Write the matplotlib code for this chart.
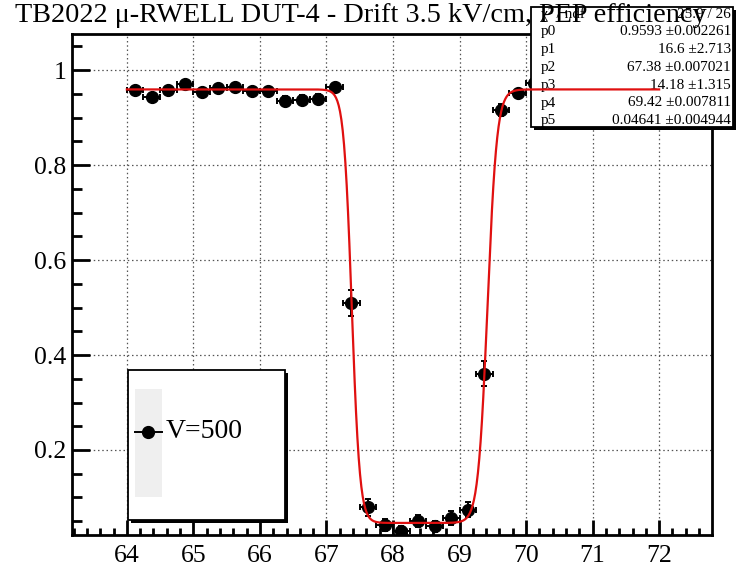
import numpy as np
import matplotlib
matplotlib.use("Agg")
import matplotlib.pyplot as plt
from matplotlib.patches import Rectangle
from matplotlib.lines import Line2D
from matplotlib.ticker import MultipleLocator

plt.rcParams["font.family"] = ["Liberation Serif", "DejaVu Serif"]

# bin centres (position in mm) and measured efficiency
pos = [64.125, 64.375, 64.625, 64.875, 65.125, 65.375, 65.625, 65.875,
       66.125, 66.375, 66.625, 66.875, 67.125, 67.375, 67.625, 67.875,
       68.125, 68.375, 68.625, 68.875, 69.125, 69.375, 69.625, 69.875,
       70.125, 70.375, 70.625, 70.875, 71.125, 71.375, 71.625, 71.875]
eff = [0.958, 0.943, 0.958, 0.970, 0.953, 0.962, 0.965, 0.956,
       0.956, 0.935, 0.937, 0.940, 0.964, 0.509, 0.079, 0.042,
       0.030, 0.051, 0.039, 0.057, 0.074, 0.361, 0.916, 0.951,
       0.973, 0.962, 0.958, 0.965, 0.955, 0.961, 0.957, 0.963]
eff_err = [0.009, 0.009, 0.009, 0.008, 0.009, 0.009, 0.008, 0.009,
           0.009, 0.010, 0.010, 0.010, 0.008, 0.027, 0.018, 0.012,
           0.010, 0.013, 0.012, 0.014, 0.016, 0.027, 0.012, 0.009,
           0.008, 0.009, 0.009, 0.009, 0.009, 0.009, 0.009, 0.009]
pos_err = 0.125

# fit results
par_names = ["p0", "p1", "p2", "p3", "p4", "p5"]
par_vals = [0.9593, 16.6, 67.38, 14.18, 69.42, 0.04641]
par_text = ["0.9593 \u00b10.002261", "16.6 \u00b12.713", "67.38 \u00b10.007021",
            "14.18 \u00b11.315", "69.42 \u00b10.007811", "0.04641 \u00b10.004944"]
chi2_text = "25.9 / 26"
fit_range = (64.0, 72.0)


def fit_func(x, p):
    fall = 1.0 / (1.0 + np.exp(p[1] * (x - p[2])))
    rise = 1.0 / (1.0 + np.exp(-p[3] * (x - p[4])))
    return p[5] + (p[0] - p[5]) * (fall + rise)


W, H = 736, 568
fig = plt.figure(figsize=(W / 100, H / 100), dpi=100)


def fx(px):
    return px / W


def fy(py):
    return 1 - py / H


ax = fig.add_axes([fx(72.3), fy(535), fx(711.7) - fx(72.3), (535 - 34) / H])
ax.set_xlim(63.18, 72.79)
ax.set_ylim(0.021, 1.076)

ax.xaxis.set_major_locator(MultipleLocator(1))
ax.xaxis.set_minor_locator(MultipleLocator(0.2))
ax.yaxis.set_major_locator(MultipleLocator(0.2))
ax.yaxis.set_minor_locator(MultipleLocator(0.05))
ax.set_yticks([0.2, 0.4, 0.6, 0.8, 1.0])
ax.set_yticklabels(["0.2", "0.4", "0.6", "0.8", "1"])
ax.tick_params(which="both", direction="in", top=False, right=False, width=2, labelsize=18.5)
ax.tick_params(axis="y", which="major", length=13, pad=4)
ax.tick_params(axis="y", which="minor", length=7)
ax.tick_params(axis="x", which="major", length=11, pad=7)
ax.tick_params(axis="x", which="minor", length=5)
for s in ax.spines.values():
    s.set_linewidth(2)
ax.set_axisbelow(True)
ax.grid(True, which="major", color="#555555", linestyle=(0, (1.2, 2.2)), linewidth=0.9)

ax.errorbar(pos, eff, yerr=eff_err, xerr=pos_err, fmt="o", color="black",
            markersize=8.5, elinewidth=1.4, capsize=2.5, capthick=1.4, zorder=3)

xf = np.linspace(fit_range[0], fit_range[1], 800)
ax.plot(xf, fit_func(xf, par_vals), color="#e01010", lw=1.6, zorder=6)

# stats box
tf = fig.transFigure
ax.add_patch(Rectangle((fx(534), fy(130)), fx(736) - fx(534), (130 - 10) / H,
                       facecolor="black", edgecolor="none", transform=tf,
                       clip_on=False, zorder=4))
ax.add_patch(Rectangle((fx(531), fy(127)), fx(733) - fx(531), (127 - 7) / H,
                       facecolor="white", edgecolor="black", lw=1.3, transform=tf,
                       clip_on=False, zorder=4.2))
rows = [("\u03c7\u00b2 / ndf", chi2_text)] + list(zip(par_names, par_text))
for i, (name, val) in enumerate(rows):
    yy = fy(14 + i * 17.8)
    ax.text(fx(541), yy, name, transform=tf, fontsize=11, va="center", ha="left", zorder=4.5)
    ax.text(fx(731), yy, val, transform=tf, fontsize=11, va="center", ha="right", zorder=4.5)

# legend box
ax.add_patch(Rectangle((fx(131), fy(523)), fx(288) - fx(131), (523 - 373) / H,
                       facecolor="black", edgecolor="none", transform=tf, zorder=7))
ax.add_patch(Rectangle((fx(128), fy(520)), fx(285) - fx(128), (520 - 370) / H,
                       facecolor="white", edgecolor="black", lw=1.3, transform=tf, zorder=7.1))
ax.add_patch(Rectangle((fx(135), fy(497)), fx(162) - fx(135), (497 - 389) / H,
                       facecolor="#efefef", edgecolor="none", transform=tf, zorder=7.2))
ax.add_line(Line2D([fx(135), fx(162)], [fy(432), fy(432)], color="black", lw=1.4,
                   transform=tf, zorder=7.3))
ax.add_line(Line2D([fx(148)], [fy(432)], marker="o", markersize=8.5, color="black",
                   transform=tf, zorder=7.4))
ax.text(fx(166), fy(432), "V=500", transform=tf, fontsize=20, va="center", ha="left", zorder=7.4)

fig.text(fx(15), fy(22), "TB2022 \u03bc-RWELL DUT-4 - Drift 3.5 kV/cm, PEP efficiency",
         fontsize=20.3, va="baseline", ha="left", zorder=10)

fig.savefig("out.png", dpi=100)
